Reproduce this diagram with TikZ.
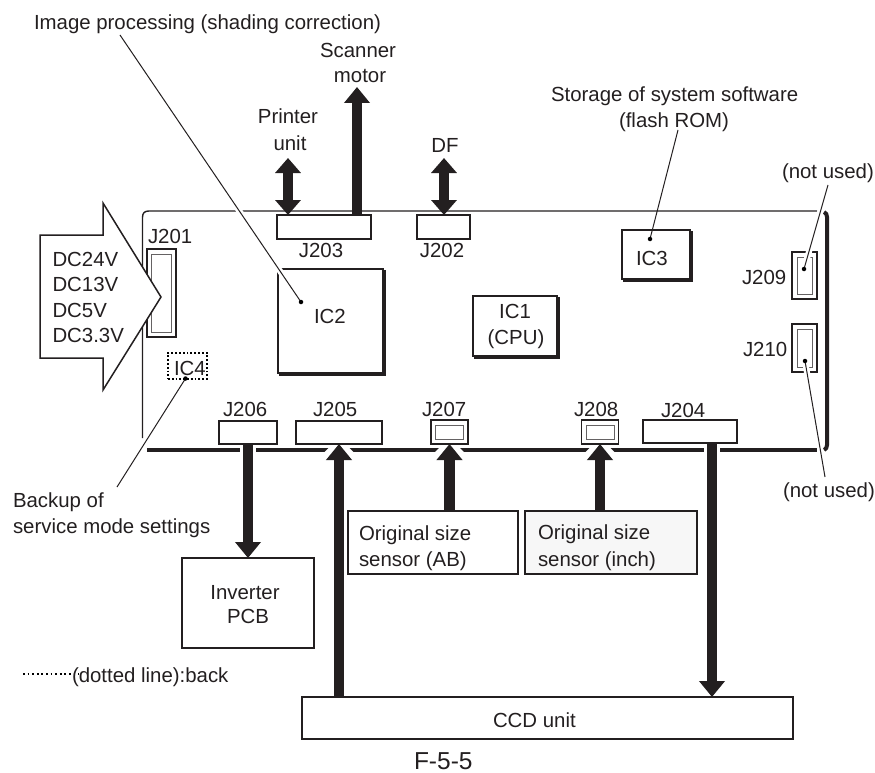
\documentclass[tikz,border=0pt]{standalone}
\usepackage{fontspec}
\setmainfont{Liberation Sans}
\usetikzlibrary{arrows.meta,backgrounds}
\definecolor{ink}{HTML}{231F20}
\tikzset{
  x=1pt,y=-1pt,
  lbl/.style={anchor=base west,inner sep=0pt,outer sep=0pt,text=ink,font=\fontsize{20.4}{24}\selectfont},
  clbl/.style={lbl,anchor=base},
  cbox/.style={draw=ink,fill=white,line width=1.5pt,rectangle,inner sep=0pt,outer sep=0pt,minimum width=#1},
  cbox/.default=10pt,
  inbox/.style={draw=ink!70,line width=1pt,rectangle,inner sep=0pt,outer sep=0pt},
  boardthin/.style={draw=ink,line width=1.4pt},
  boardthick/.style={draw=ink,line width=4pt},
  shadowline/.style={draw=ink,line width=2.5pt},
  blockarrow/.style={draw=ink,line width=10.5pt,-{Triangle[length=16pt,width=25pt]}},
  blockboth/.style={draw=ink,line width=10.5pt,{Triangle[length=15pt,width=25pt]}-{Triangle[length=15pt,width=25pt]}},
  halo/.style={draw=white,line width=16pt,shorten >=-6pt,-{Triangle[length=22pt,width=44pt]}},
  leader/.style={draw=ink,line width=1pt},
  leaderhalo/.style={draw=white,line width=6pt},
  leaderdot/.style={fill=black,circle,inner sep=0pt,minimum size=4.5pt},
  dottedline/.style={draw=black,line width=1.7pt,dash pattern=on 1.8pt off 2.8pt}
}
\begin{document}
\begin{tikzpicture}
\useasboundingbox (0,0) rectangle (875,773);

% connectors on the top edge and the boxes
\node[cbox=94pt,minimum height=24pt] (J203) at (324,227) {};
\node[cbox=53pt,minimum height=24pt] (J202) at (443.5,227) {};
\node[cbox=58pt,minimum height=23pt] (J206) at (248,432.5) {};
\node[cbox=86pt,minimum height=23pt] (J205) at (339,432.5) {};
\node[cbox=37pt,minimum height=24pt] (J207) at (449.5,432) {};
\node[inbox,minimum width=28pt,minimum height=14pt] (J207i) at (449.5,432) {};
\node[cbox=37pt,minimum height=24pt] (J208) at (600,432) {};
\node[inbox,minimum width=28pt,minimum height=14pt] (J208i) at (600,432) {};
\node[cbox=94pt,minimum height=23pt] (J204) at (690,431.5) {};
\node[cbox=29pt,minimum height=88pt] (J201) at (161.5,293) {};
\node[inbox,minimum width=20pt,minimum height=78pt] (J201i) at (161.5,293) {};
\node[cbox=25pt,minimum height=47pt] (J209) at (804.5,275.5) {};
\node[inbox,minimum width=15pt,minimum height=37pt] (J209i) at (804.5,275.5) {};
\node[cbox=25pt,minimum height=48pt] (J210) at (804.5,348) {};
\node[inbox,minimum width=15pt,minimum height=38pt] (J210i) at (804.5,348) {};
\node[cbox=105pt,minimum height=104pt] (IC2) at (330.5,321) {};
\node[cbox=84pt,minimum height=60pt] (IC1) at (515,326) {};
\node[cbox=68pt,minimum height=49pt] (IC3) at (656,254.5) {};
\node[draw=black,line width=1.5pt,dash pattern=on 1.8pt off 2pt,rectangle,inner sep=0pt,outer sep=0pt,minimum width=39pt,minimum height=26pt] (IC4) at (187.5,366) {};
\node[cbox=132pt,minimum height=90pt] (INV) at (248,603) {};
\node[cbox=170pt,minimum height=63pt] (SAB) at (433,542.5) {};
\node[cbox=172pt,minimum height=63pt,fill=black!3] (SIN) at (611,542.5) {};
\node[cbox=491pt,minimum height=42pt] (CCD) at (547.5,718) {};

% free ends
\coordinate (printerTop) at (288,158);
\coordinate (scanTop) at (357,87);
\coordinate (dfTop) at (444,158);
\coordinate (ccdDrop) at (712,449);

\begin{pgfonlayer}{background}
  % board outline
  \draw[boardthin] (817,211) -- (149,211) .. controls (144.5,211) and (142.5,213) .. (142.5,217.5) -- (142.5,438);
  \draw[boardthick] (147,449.5) -- (817,449.5);
  \draw[boardthick] (824,212) .. controls (826,213) and (827,214.5) .. (827,217) -- (827,445) .. controls (827,447.5) and (826,449) .. (824,450);
  % halos where the thick arrows cross the bottom edge
  \draw[halo] (J206.south) -- (J206.south |- INV.north);
  \draw[halo] (J205.south |- CCD.north) -- (J205.south);
  \draw[halo] (J207.south |- SAB.north) -- (J207.south);
  \draw[halo] (J208.south |- SIN.north) -- (J208.south);
  \draw[halo] (ccdDrop |- J204.south) -- (ccdDrop |- CCD.north);
  % block arrows
  \draw[blockarrow] (J206.south) -- (J206.south |- INV.north);
  \draw[blockarrow] (J205.south |- CCD.north) -- (J205.south);
  \draw[blockarrow] (J207.south |- SAB.north) -- (J207.south);
  \draw[blockarrow] (J208.south |- SIN.north) -- (J208.south);
  \draw[blockarrow] (ccdDrop |- J204.south) -- (ccdDrop |- CCD.north);
  \draw[blockarrow] (scanTop |- J203.north) -- (scanTop);
  \draw[blockboth] (printerTop) -- (printerTop |- J203.north);
  \draw[blockboth] (dfTop) -- (dfTop |- J202.north);
\end{pgfonlayer}

% drop shadows
\draw[shadowline] ([xshift=1.4pt,yshift=-1pt]IC2.north east) -- ([xshift=1.4pt,yshift=-1.4pt]IC2.south east) -- ([xshift=1pt,yshift=-1.4pt]IC2.south west);
\draw[shadowline] ([xshift=1.4pt,yshift=-1pt]IC1.north east) -- ([xshift=1.4pt,yshift=-1.4pt]IC1.south east) -- ([xshift=1pt,yshift=-1.4pt]IC1.south west);
\draw[shadowline] ([xshift=1.4pt,yshift=-1pt]IC3.north east) -- ([xshift=1.4pt,yshift=-1.4pt]IC3.south east) -- ([xshift=1pt,yshift=-1.4pt]IC3.south west);

% power input arrow
\draw[draw=ink,fill=white,line width=1.5pt,line join=miter] (40,235) -- (103,235) -- (103,203) -- (161,297) -- (103,390) -- (103,358) -- (40,358) -- cycle;

% leader lines
\coordinate (imgStart) at (120,35);
\coordinate (imgDot) at (301,302);
\coordinate (ic3Start) at (678,130);
\coordinate (ic3Dot) at (650,239);
\coordinate (j209Start) at (828,185);
\coordinate (j209Dot) at (804,269);
\coordinate (j210End) at (825,477);
\coordinate (j210Dot) at (805,361);
\coordinate (ic4End) at (117,487);
\coordinate (ic4Dot) at (185.5,378.5);
\draw[leaderhalo] (imgStart) -- (imgDot);
\draw[leaderhalo] (j209Start) -- (j209Dot);
\draw[leaderhalo] (j210End) -- (j210Dot);
\draw[leader] (imgStart) -- (imgDot);
\draw[leader] (ic3Start) -- (ic3Dot);
\draw[leader] (j209Start) -- (j209Dot);
\draw[leader] (j210End) -- (j210Dot);
\draw[leader] (ic4End) -- (ic4Dot);
\node[leaderdot] (d1) at (imgDot) {};
\node[leaderdot] (d2) at (ic3Dot) {};
\node[leaderdot] (d3) at (j209Dot) {};
\node[leaderdot] (d4) at (j210Dot) {};
\node[leaderdot] (d5) at (ic4Dot) {};

% legend line
\coordinate (legA) at (23,674);
\coordinate (legB) at (79,674);
\draw[dottedline] (legA) -- (legB);

% texts
\node[lbl] (t1) at (34,30) {Image processing (shading correction)};
\node[clbl] (t2) at (358,58) {Scanner};
\node[clbl] (t3) at (360,83) {motor};
\node[clbl] (t4) at (288,124) {Printer};
\node[clbl] (t5) at (290,150) {unit};
\node[clbl] (t6) at (445,153) {DF};
\node[clbl] (t7) at (321,257) {J203};
\node[clbl] (t8) at (442,257) {J202};
\node[lbl] (t9) at (551,102) {Storage of system software};
\node[lbl] (t10) at (619,128) {(flash ROM)};
\node[lbl] (t11) at (782,178) {(not used)};
\node[lbl] (t12) at (783,497) {(not used)};
\node[lbl] (t13) at (148,243) {J201};
\node[lbl] (t14) at (52.5,266) {DC24V};
\node[lbl] (t15) at (52.5,291) {DC13V};
\node[lbl] (t16) at (52.5,317) {DC5V};
\node[lbl] (t17) at (52.5,342) {DC3.3V};
\node[lbl] (t18) at (174,375) {IC4};
\node[lbl] (t19) at (223,416) {J206};
\node[lbl] (t20) at (313,416) {J205};
\node[lbl] (t21) at (422,416) {J207};
\node[lbl] (t22) at (574,416) {J208};
\node[lbl] (t23) at (661,417) {J204};
\node[lbl] (t24) at (636,265) {IC3};
\node[lbl] (t25) at (742,284) {J209};
\node[lbl] (t26) at (743,356) {J210};
\node[lbl] (t27) at (314,323) {IC2};
\node[clbl] (t28) at (515,318) {IC1};
\node[clbl] (t29) at (516,344) {(CPU)};
\node[lbl] (t30) at (13,507) {Backup of};
\node[lbl] (t31) at (13,533) {service mode settings};
\node[clbl] (t32) at (245,599) {Inverter};
\node[clbl] (t33) at (248,623) {PCB};
\node[lbl] (t34) at (72,682) {(dotted line):back};
\node[lbl] (t35) at (359,540) {Original size};
\node[lbl] (t36) at (359,566) {sensor (AB)};
\node[lbl] (t37) at (538,539) {Original size};
\node[lbl] (t38) at (538,566) {sensor (inch)};
\node[lbl] (t39) at (493,727) {CCD unit};
\node[lbl,font=\fontsize{24.5}{28}\selectfont] (t40) at (414,769.5) {F-5-5};
\end{tikzpicture}
\end{document}
